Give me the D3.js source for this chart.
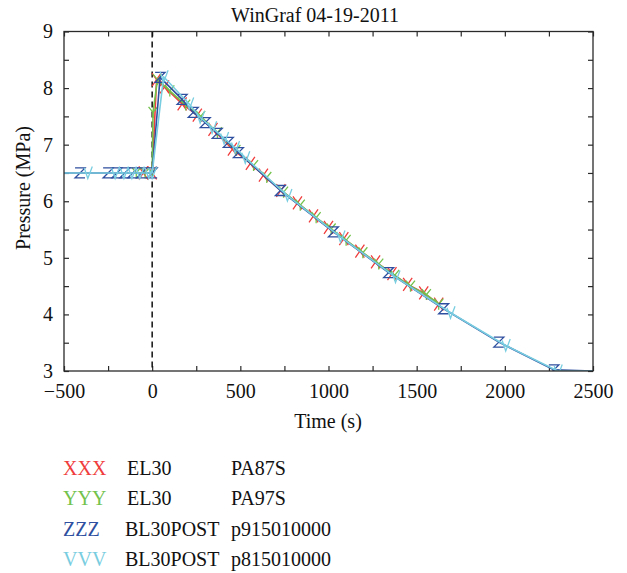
<!DOCTYPE html>
<html>
<head>
<meta charset="utf-8">
<script src="https://cdn.jsdelivr.net/npm/d3@7/dist/d3.min.js"></script>
<style>
  html, body { margin: 0; padding: 0; background: #fff; }
  svg { display: block; }
  text { font-family: "Liberation Serif", "Times New Roman", "DejaVu Serif", serif; fill: #111; }
</style>
</head>
<body>
<svg id="chart" width="627" height="573"></svg>
<script>
// Pressure histories (time in s, pressure in MPa), one array per channel
const seriesX = [ // EL30 PA87S
  [-50, 6.5], [0, 6.5], [25, 8.15], [70, 8.02], [170, 7.72], [256, 7.52], [345, 7.27],
  [455, 6.92], [557, 6.67], [631, 6.46], [730, 6.19], [824, 5.97], [915, 5.74],
  [1000, 5.54], [1087, 5.34], [1178, 5.12], [1267, 4.93], [1360, 4.72], [1449, 4.53],
  [1540, 4.38], [1625, 4.18]
];
const seriesY = [ // EL30 PA97S
  [-90, 6.5], [-40, 6.5], [0, 6.5], [5, 7.57], [30, 8.15], [100, 7.95], [190, 7.70],
  [275, 7.50], [370, 7.21], [475, 6.90], [575, 6.63], [650, 6.42], [745, 6.16],
  [840, 5.93], [930, 5.71], [1015, 5.51], [1100, 5.31], [1195, 5.09], [1285, 4.89],
  [1375, 4.69], [1465, 4.50], [1555, 4.35], [1625, 4.18]
];
const seriesZ = [ // BL30POST p915010000
  [-500, 6.5], [-409, 6.5], [-250, 6.5], [-200, 6.5], [-155, 6.5], [-110, 6.5],
  [-60, 6.5], [0, 6.5], [45, 8.19], [170, 7.80], [233, 7.57], [301, 7.39], [369, 7.20],
  [432, 7.04], [489, 6.86], [727, 6.19], [1028, 5.46], [1341, 4.74], [1653, 4.10],
  [1966, 3.51], [2278, 3.02], [2500, 3.0]
];
const seriesV = [ // BL30POST p815010000
  [-500, 6.5], [-365, 6.5], [-210, 6.5], [-160, 6.5], [-115, 6.5], [-70, 6.5],
  [-20, 6.5], [0, 6.5], [65, 8.2], [210, 7.72], [272, 7.48], [340, 7.30], [408, 7.11],
  [470, 6.95], [528, 6.77], [767, 6.10], [1068, 5.37], [1380, 4.66], [1692, 4.03],
  [2005, 3.45], [2300, 3.0], [2500, 3.0]
];

const legendCodes  = ["XXX", "YYY", "ZZZ", "VVV"];
const legendNames  = ["EL30", "EL30", "BL30POST", "BL30POST"];
const legendProbes = ["PA87S", "PA97S", "p915010000", "p815010000"];
const seriesColors = ["#f03c3c", "#72c24c", "#2e4f9f", "#78cde0"];

const xTicks = [-500, -250, 0, 250, 500, 750, 1000, 1250, 1500, 1750, 2000, 2250, 2500];
const xLabels = [-500, 0, 500, 1000, 1500, 2000, 2500];
const yTicks = [3, 3.5, 4, 4.5, 5, 5.5, 6, 6.5, 7, 7.5, 8, 8.5, 9];
const yLabels = [3, 4, 5, 6, 7, 8, 9];

const title = "WinGraf 04-19-2011";
const xTitle = "Time (s)";
const yTitle = "Pressure (MPa)";

const svg = d3.select("#chart");
const plot = { left: 64, right: 593, top: 31.5, bottom: 371 };

const x = d3.scaleLinear().domain([-500, 2500]).range([plot.left, plot.right]);
const y = d3.scaleLinear().domain([3, 9]).range([plot.bottom, plot.top]);

// Character-style markers drawn as strokes, centred on each sample
const markerPaths = [
  "M-4.5,-6.5L4.5,6.5M4.5,-6.5L-4.5,6.5",   // X
  "M-4.5,-5.5L0,0L4.5,-5.5M0,0L0,5.5",       // Y
  "M-5,-5H5L-5,5H5",                         // Z
  "M-3.5,-5L0,5.5L4.5,-6.5"                  // V
];

const tickLen = 5;
const frameColor = "#2a2a2a";
const fontSize = 20;

// Inward ticks on all four sides
const axisG = svg.append("g");
const makeTicks = (axisFn, scale, ticks, transform) => {
  const g = axisG.append("g").attr("transform", transform)
    .call(axisFn(scale).tickValues(ticks).tickSize(tickLen).tickFormat(""));
  g.select(".domain").remove();
  g.selectAll(".tick line").attr("stroke", frameColor).attr("stroke-width", 1.2);
  return g;
};
makeTicks(d3.axisTop, x, xTicks, `translate(0,${plot.bottom})`);
makeTicks(d3.axisBottom, x, xTicks, `translate(0,${plot.top})`);
makeTicks(d3.axisRight, y, yTicks, `translate(${plot.left},0)`);
makeTicks(d3.axisLeft, y, yTicks, `translate(${plot.right},0)`);

// Tick labels
const xl = svg.append("g").attr("transform", `translate(0,${plot.bottom})`)
  .call(d3.axisBottom(x).tickValues(xLabels).tickSize(0).tickPadding(13)
    .tickFormat(d => d < 0 ? "\u2212" + Math.abs(d) : String(d)));
xl.attr("font-family", null).attr("font-size", null);
xl.select(".domain").remove();
xl.selectAll("text").attr("font-size", fontSize);

const yl = svg.append("g").attr("transform", `translate(${plot.left},0)`)
  .call(d3.axisLeft(y).tickValues(yLabels).tickSize(0).tickPadding(11).tickFormat(d3.format("d")));
yl.attr("font-family", null).attr("font-size", null);
yl.select(".domain").remove();
yl.selectAll("text").attr("font-size", fontSize);

// Event marker at t = 0
svg.append("line")
  .attr("x1", x(0)).attr("x2", x(0))
  .attr("y1", plot.top).attr("y2", plot.bottom)
  .attr("stroke", "#111").attr("stroke-width", 1.5)
  .attr("stroke-dasharray", "6,4");

// Curves
svg.append("clipPath").attr("id", "plotClip")
  .append("rect").attr("x", plot.left).attr("y", plot.top - 8)
  .attr("width", plot.right - plot.left).attr("height", plot.bottom - plot.top + 8);

const line = d3.line().x(d => x(d[0])).y(d => y(d[1]));
const allSeries = [seriesX, seriesY, seriesZ, seriesV];
const curves = svg.append("g").attr("clip-path", "url(#plotClip)");

allSeries.forEach((s, i) => {
  const g = curves.append("g");
  g.append("path").datum(s)
    .attr("d", line).attr("fill", "none")
    .attr("stroke", seriesColors[i]).attr("stroke-width", 1.6)
    .attr("stroke-linejoin", "round");
  g.selectAll("path.mk")
    .data(s.filter(d => d[0] > -500 && d[0] < 2500))
    .join("path").attr("class", "mk")
    .attr("transform", d => `translate(${x(d[0])},${y(d[1])})`)
    .attr("d", markerPaths[i]).attr("fill", "none")
    .attr("stroke", seriesColors[i]).attr("stroke-width", 1.3);
});

// Frame
svg.append("rect")
  .attr("x", plot.left).attr("y", plot.top)
  .attr("width", plot.right - plot.left).attr("height", plot.bottom - plot.top)
  .attr("fill", "none").attr("stroke", frameColor).attr("stroke-width", 1.3);

// Titles
svg.append("text").attr("x", 315).attr("y", 22).attr("text-anchor", "middle")
  .attr("font-size", fontSize).text(title);
svg.append("text").attr("x", 328).attr("y", 428)
  .attr("text-anchor", "middle").attr("font-size", fontSize).text(xTitle);
svg.append("text").attr("transform", "translate(30,188) rotate(-90)")
  .attr("text-anchor", "middle").attr("font-size", fontSize).text(yTitle);

// Legend
const legend = svg.append("g");
legendCodes.forEach((code, i) => {
  const by = 475 + i * 30.4;
  legend.append("text").attr("x", 63).attr("y", by).attr("font-size", fontSize)
    .style("fill", seriesColors[i]).text(code);
  legend.append("text").attr("x", i < 2 ? 127 : 125).attr("y", by).attr("font-size", fontSize)
    .text(legendNames[i]);
  legend.append("text").attr("x", 231).attr("y", by).attr("font-size", fontSize)
    .text(legendProbes[i]);
});
</script>
</body>
</html>
